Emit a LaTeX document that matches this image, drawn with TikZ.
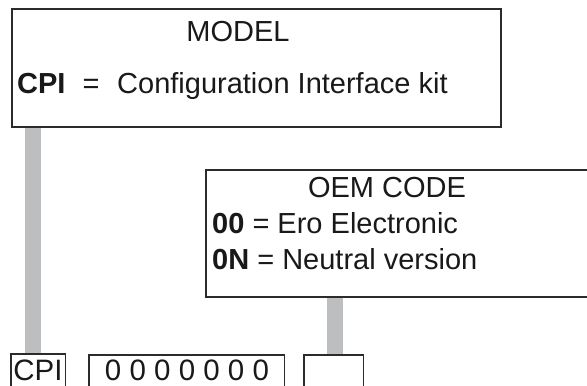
\documentclass[tikz,border=0pt]{standalone}
\usepackage{fontspec}
\setmainfont{Liberation Sans}
\definecolor{frame}{HTML}{2B2B2B}
\definecolor{bargray}{HTML}{BCBEC0}
\begin{document}
\begin{tikzpicture}[x=1bp,y=-1bp,
  box/.style={draw=frame,line width=1.6bp,fill=white,inner sep=0pt,anchor=north west},
  ghost/.style={inner sep=0pt,anchor=north west},
  bar/.style={draw=bargray,line width=16bp},
  txt/.style={inner sep=0pt,anchor=base west,font=\fontsize{29bp}{34bp}\selectfont,text=black!90},
  ctxt/.style={inner sep=0pt,anchor=base,font=\fontsize{29bp}{34bp}\selectfont,text=black!90},
  big/.style={inner sep=0pt,anchor=base,font=\fontsize{29.5bp}{34bp}\selectfont,text=black!90},
  open/.style={draw=frame,line width=1.6bp}]
\useasboundingbox (0,0) rectangle (587,385);
\clip (0,0) rectangle (587,385);
% bottom code boxes (open at the bottom)
\node[ghost,minimum width=54bp,minimum height=40bp] (cpi) at (11,354) {};
\node[ghost,minimum width=195bp,minimum height=40bp] (num) at (89,355) {};
\node[ghost,minimum width=59bp,minimum height=40bp] (oem) at (304,355) {};
% boxes
\node[box,minimum width=489bp,minimum height=118bp] (model) at (11,8) {};
\node[box,minimum width=390bp,minimum height=127bp] (oembox) at (205,169) {};
% gray connectors
\coordinate (m1) at ([xshift=22bp]model.south west);
\draw[bar] (m1) -- (m1 |- cpi.north);
\coordinate (o1) at ([xshift=130bp]oembox.south west);
\draw[bar] (o1) -- (o1 |- oem.north);
% open frames
\draw[open] (cpi.south west) -- (cpi.north west) -- (cpi.north east) -- (cpi.south east);
\draw[open] (num.south west) -- (num.north west) -- (num.north east) -- (num.south east);
\draw[open] (oem.south west) -- (oem.north west) -- (oem.north east) -- (oem.south east);
% texts
\node[ctxt] (tmodel) at (238,41) {MODEL};
\node[txt] (tcpi) at (17,93) {\bfseries CPI};
\node[ctxt] (teq) at (91,93) {=};
\node[txt] (tconf) at (117,93) {Configuration Interface kit};
\node[ctxt] (toem) at (387,197) {OEM CODE};
\node[txt] (t00) at (212,233) {\textbf{00} = Ero Electronic};
\node[txt] (t0n) at (212,269) {\textbf{0N} = Neutral version};
\node[big] (bcpi) at (38,380) {CPI};
\node[big] (bnum) at (187,380) {0 0 0 0 0 0 0};
\end{tikzpicture}
\end{document}
